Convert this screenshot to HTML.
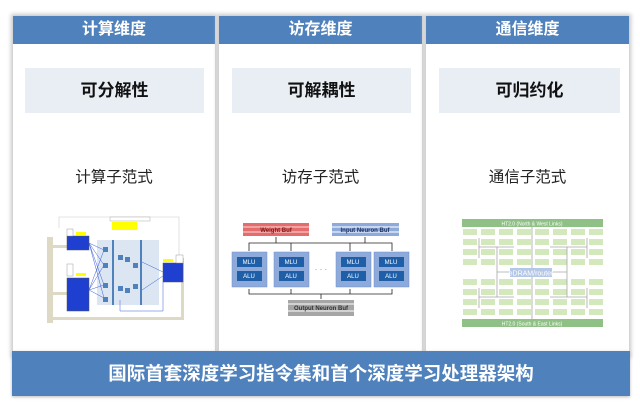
<!DOCTYPE html>
<html><head><meta charset="utf-8"><style>
*{margin:0;padding:0;box-sizing:border-box}
body{width:640px;height:403px;background:#fff;position:relative;overflow:hidden;font-family:"Liberation Sans","Noto Sans CJK SC",sans-serif}
.col{position:absolute;top:16px;height:340px;background:#fff;box-shadow:0 0 4px 2px #c8c8c8}
.hd{position:absolute;left:0;right:0;top:0;height:28px;background:#4f81bd;color:#fff;font-weight:bold;font-size:16px;text-align:center;line-height:28px}
.sub{position:absolute;top:52px;height:45px;background:#e9eef5;font-weight:bold;font-size:17px;text-align:center;line-height:45px;color:#111}
.nm{position:absolute;top:149px;left:0;right:0;text-align:center;font-size:15.5px;color:#222}
.bot{position:absolute;left:12px;top:351px;width:618px;height:45px;background:#4f81bd;color:#fff;font-weight:bold;font-size:18.5px;text-align:center;line-height:45px;box-shadow:0 1px 3px #bbb}
svg{position:absolute;left:0;top:0}
</style></head><body>
<div class="col" style="left:13px;width:202px"><div class="hd">计算维度</div><div class="sub" style="left:12px;width:179px">可分解性</div><div class="nm">计算子范式</div></div>
<div class="col" style="left:219px;width:203px"><div class="hd">访存维度</div><div class="sub" style="left:13px;width:179px">可解耦性</div><div class="nm">访存子范式</div></div>
<div class="col" style="left:426px;width:203px"><div class="hd">通信维度</div><div class="sub" style="left:13px;width:181px">可归约化</div><div class="nm">通信子范式</div></div>
<div class="bot">国际首套深度学习指令集和首个深度学习处理器架构</div>
<svg width="640" height="403" font-family="Liberation Sans" >
<!-- diagram 1 -->
<g>
<rect x="47" y="237" width="6" height="86" fill="#ddd9c4"/>
<rect x="53" y="317" width="130" height="3" fill="#ddd9c4"/>
<rect x="181" y="258" width="3" height="62" fill="#ddd9c4"/>
<rect x="53" y="245" width="14" height="3" fill="#ddd9c4"/><rect x="53" y="292" width="14" height="3" fill="#ddd9c4"/>
<polyline points="59,228 59,217 179,217 179,258" fill="none" stroke="#ccc" stroke-width="0.6"/>
<rect x="97" y="240" width="62" height="65" fill="#dce6f2"/>
<rect x="112" y="240" width="2" height="65" fill="#4f81bd"/><rect x="140" y="240" width="2" height="65" fill="#4f81bd"/>
<rect x="67" y="236" width="22" height="14" fill="#1f3fd0" stroke="#555" stroke-width="0.5"/>
<rect x="67" y="278" width="22" height="33" fill="#1f3fd0" stroke="#555" stroke-width="0.5"/>
<rect x="163" y="263" width="20" height="19" fill="#1f3fd0" stroke="#555" stroke-width="0.5"/>
<rect x="67" y="229" width="6" height="7" fill="#fff" stroke="#888" stroke-width="0.4"/>
<rect x="67" y="264" width="6" height="12" fill="#fff" stroke="#888" stroke-width="0.4"/>
<rect x="176" y="255" width="7" height="8" fill="#fff" stroke="#888" stroke-width="0.4"/>
<rect x="76" y="232" width="10" height="3" fill="#ffff00"/><rect x="76" y="273" width="10" height="3" fill="#ffff00"/><rect x="163" y="259" width="10" height="3" fill="#ffff00"/>
<rect x="112" y="222" width="25" height="8" fill="#ffff00"/>
<rect x="110" y="217" width="40" height="4" fill="#fff" stroke="#999" stroke-width="0.4"/>
<g stroke="#3a5fd8" stroke-width="0.5" fill="none">
<path d="M89,243 L104,250 M89,243 L104,265 M89,243 L104,285 M89,243 L104,298 M89,290 L104,250 M89,290 L104,265 M89,290 L104,285 M89,290 L104,298"/>
<path d="M142,262 L163,272 M142,290 L163,276 M120,300 L120,311 L163,311 L163,282"/>
</g>
<g fill="#4f81bd"><rect x="103" y="247" width="5" height="5"/><rect x="103" y="263" width="5" height="5"/><rect x="103" y="283" width="5" height="5"/><rect x="103" y="297" width="5" height="5"/>
<rect x="118" y="255" width="5" height="5"/><rect x="125" y="257" width="5" height="5"/><rect x="118" y="286" width="5" height="5"/><rect x="125" y="288" width="5" height="5"/><rect x="133" y="263" width="5" height="5"/><rect x="133" y="284" width="5" height="5"/></g>
</g>
<!-- diagram 2 -->
<g>
<rect x="243" y="223" width="66" height="13" fill="#e46c6c"/>
<g stroke="#f4b5b5" stroke-width="1.5"><line x1="243" y1="227" x2="309" y2="227"/><line x1="243" y1="232" x2="309" y2="232"/></g>
<text x="276" y="232" font-size="6" text-anchor="middle" fill="#7a2020" font-weight="bold">Weight Buf</text>
<rect x="332" y="223" width="67" height="13" fill="#8eaadb"/>
<g stroke="#dbe5f7" stroke-width="1.5"><line x1="332" y1="227" x2="399" y2="227"/><line x1="332" y1="232" x2="399" y2="232"/></g>
<text x="365" y="232" font-size="6" text-anchor="middle" fill="#1f3060" font-weight="bold">Input Neuron Buf</text>
<rect x="288" y="300" width="66" height="16" fill="#a6a6a6"/>
<g stroke="#e0e0e0" stroke-width="1.5"><line x1="288" y1="304" x2="354" y2="304"/><line x1="288" y1="311" x2="354" y2="311"/></g>
<text x="321" y="310" font-size="6" text-anchor="middle" fill="#333" font-weight="bold">Output Neuron Buf</text>
<g stroke="#222" stroke-width="0.8" fill="none">
<polyline points="249,251 249,243 392,243 392,251"/><line x1="291" y1="243" x2="291" y2="251"/><line x1="350" y1="243" x2="350" y2="251"/><line x1="276" y1="243" x2="276" y2="237"/><line x1="365" y1="243" x2="365" y2="237"/>
<polyline points="249,289 249,294 392,294 392,289"/><line x1="291" y1="294" x2="291" y2="289"/><line x1="350" y1="294" x2="350" y2="289"/><line x1="321" y1="294" x2="321" y2="299"/>
</g>
<g fill="#8eaadb" stroke="#6f8fcf" stroke-width="0.5"><rect x="232" y="252" width="35" height="35"/><rect x="274" y="252" width="35" height="35"/><rect x="336" y="252" width="35" height="35"/><rect x="374" y="252" width="35" height="35"/></g>
<g fill="#1f5fa8"><rect x="237" y="257" width="25" height="10"/><rect x="237" y="271" width="25" height="10"/><rect x="279" y="257" width="25" height="10"/><rect x="279" y="271" width="25" height="10"/><rect x="341" y="257" width="25" height="10"/><rect x="341" y="271" width="25" height="10"/><rect x="379" y="257" width="25" height="10"/><rect x="379" y="271" width="25" height="10"/></g>
<g font-size="6" fill="#fff" text-anchor="middle"><text x="249" y="264">MLU</text><text x="249" y="278">ALU</text><text x="291" y="264">MLU</text><text x="291" y="278">ALU</text><text x="353" y="264">MLU</text><text x="353" y="278">ALU</text><text x="391" y="264">MLU</text><text x="391" y="278">ALU</text></g>
<text x="321" y="272" font-size="8" fill="#888" text-anchor="middle">· · ·</text>
</g>
<!-- diagram 3 -->
<g>
<rect x="462" y="219" width="141" height="8" fill="#8fc085"/>
<rect x="462" y="319" width="141" height="8" fill="#8fc085"/>
<text x="532" y="225.5" font-size="5" fill="#fff" text-anchor="middle">HT2.0 (North &amp; West Links)</text>
<text x="532" y="325.5" font-size="5" fill="#fff" text-anchor="middle">HT2.0 (South &amp; East Links)</text>
<g fill="#d3e9bd">
<rect x="463" y="229" width="14" height="6"/><rect x="481" y="229" width="14" height="6"/><rect x="499" y="229" width="14" height="6"/><rect x="517" y="229" width="14" height="6"/><rect x="535" y="229" width="14" height="6"/><rect x="553" y="229" width="14" height="6"/><rect x="571" y="229" width="14" height="6"/><rect x="589" y="229" width="14" height="6"/>
<rect x="463" y="239" width="14" height="6"/><rect x="481" y="239" width="14" height="6"/><rect x="499" y="239" width="14" height="6"/><rect x="517" y="239" width="14" height="6"/><rect x="535" y="239" width="14" height="6"/><rect x="553" y="239" width="14" height="6"/><rect x="571" y="239" width="14" height="6"/><rect x="589" y="239" width="14" height="6"/>
<rect x="463" y="249" width="14" height="6"/><rect x="481" y="249" width="14" height="6"/><rect x="499" y="249" width="14" height="6"/><rect x="517" y="249" width="14" height="6"/><rect x="535" y="249" width="14" height="6"/><rect x="553" y="249" width="14" height="6"/><rect x="571" y="249" width="14" height="6"/><rect x="589" y="249" width="14" height="6"/>
<rect x="463" y="259" width="14" height="6"/><rect x="481" y="259" width="14" height="6"/><rect x="499" y="259" width="14" height="6"/><rect x="517" y="259" width="14" height="6"/><rect x="535" y="259" width="14" height="6"/><rect x="553" y="259" width="14" height="6"/><rect x="571" y="259" width="14" height="6"/><rect x="589" y="259" width="14" height="6"/>
<rect x="463" y="279" width="14" height="6"/><rect x="481" y="279" width="14" height="6"/><rect x="499" y="279" width="14" height="6"/><rect x="517" y="279" width="14" height="6"/><rect x="535" y="279" width="14" height="6"/><rect x="553" y="279" width="14" height="6"/><rect x="571" y="279" width="14" height="6"/><rect x="589" y="279" width="14" height="6"/>
<rect x="463" y="289" width="14" height="6"/><rect x="481" y="289" width="14" height="6"/><rect x="499" y="289" width="14" height="6"/><rect x="517" y="289" width="14" height="6"/><rect x="535" y="289" width="14" height="6"/><rect x="553" y="289" width="14" height="6"/><rect x="571" y="289" width="14" height="6"/><rect x="589" y="289" width="14" height="6"/>
<rect x="463" y="299" width="14" height="6"/><rect x="481" y="299" width="14" height="6"/><rect x="499" y="299" width="14" height="6"/><rect x="517" y="299" width="14" height="6"/><rect x="535" y="299" width="14" height="6"/><rect x="553" y="299" width="14" height="6"/><rect x="571" y="299" width="14" height="6"/><rect x="589" y="299" width="14" height="6"/>
<rect x="463" y="309" width="14" height="6"/><rect x="481" y="309" width="14" height="6"/><rect x="499" y="309" width="14" height="6"/><rect x="517" y="309" width="14" height="6"/><rect x="535" y="309" width="14" height="6"/><rect x="553" y="309" width="14" height="6"/><rect x="571" y="309" width="14" height="6"/><rect x="589" y="309" width="14" height="6"/>
</g>
<g stroke="#a6a6a6" stroke-width="0.8" fill="none">
<line x1="532" y1="227" x2="532" y2="319"/><line x1="497" y1="272" x2="567" y2="272"/>
<line x1="479" y1="247" x2="514" y2="247"/><line x1="479" y1="238" x2="479" y2="258"/><line x1="497" y1="247" x2="497" y2="272"/>
<line x1="550" y1="247" x2="587" y2="247"/><line x1="587" y1="238" x2="587" y2="258"/><line x1="567" y1="247" x2="567" y2="272"/>
<line x1="479" y1="297" x2="514" y2="297"/><line x1="479" y1="288" x2="479" y2="308"/><line x1="497" y1="297" x2="497" y2="272"/>
<line x1="550" y1="297" x2="587" y2="297"/><line x1="587" y1="288" x2="587" y2="308"/><line x1="567" y1="297" x2="567" y2="272"/>
</g>
<rect x="510" y="268" width="42" height="9" fill="#b4c7e7"/>
<text x="531" y="275.5" font-size="7" fill="#fff" text-anchor="middle">eDRAM/router</text>
</g>
</svg>
</body></html>
